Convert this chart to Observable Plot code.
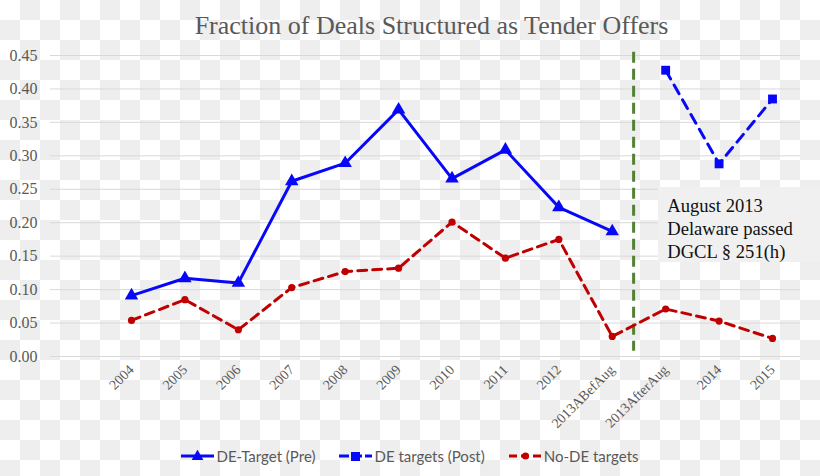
<!DOCTYPE html>
<html><head><meta charset="utf-8">
<script src="https://cdn.jsdelivr.net/npm/d3@7"></script>
<script src="https://cdn.jsdelivr.net/npm/@observablehq/plot@0.6"></script>
<style>
html,body{margin:0;padding:0}
body{width:820px;height:476px;overflow:hidden;background:repeating-conic-gradient(#eeeeee 0 25%, #ffffff 0 50%) 0 0/40px 40px;}
#title{height:32px;padding-top:13px;padding-left:43px;text-align:center;font-family:"Liberation Serif",serif;font-size:26px;line-height:1;color:#595959;}
#chart svg{display:block;}
#chart svg text{font-family:"Liberation Serif","Times New Roman",serif !important;}
#legend{height:41px;display:flex;justify-content:center;align-items:center;gap:24px;font-family:Lato,sans-serif;font-size:15px;color:#595959;padding-left:0;}
#legend .item{display:flex;align-items:center;gap:2px;}
</style></head>
<body>
<div id="title">Fraction of Deals Structured as Tender Offers</div>
<div id="chart"></div>
<div id="legend"></div>
<script>
const categories = ["2004","2005","2006","2007","2008","2009","2010","2011","2012","2013ABefAug","2013AfterAug","2014","2015"];
const preCategories = ["2004","2005","2006","2007","2008","2009","2010","2011","2012","2013ABefAug"];
const dePre = [0.091,0.117,0.110,0.262,0.289,0.369,0.266,0.309,0.223,0.187];
const postCategories = ["2013AfterAug","2014","2015"];
const dePost = [0.428,0.288,0.385];
const noDE = [0.054,0.085,0.040,0.103,0.127,0.132,0.201,0.147,0.175,0.030,0.071,0.053,0.027];
const yTicks = [0,0.05,0.10,0.15,0.20,0.25,0.30,0.35,0.40,0.45];
const seriesNames = ["DE-Target (Pre)","DE targets (Post)","No-DE targets"];
const lawLine = 9.4; // between 2013ABefAug and 2013AfterAug
const noteLines = ["August 2013","Delaware passed","DGCL § 251(h)"];

const BLUE = "#0808f8", RED = "#c00000", GREEN = "#548235";
const SERIF = "'Liberation Serif', 'Times New Roman', serif";
const pre = preCategories.map((c,i)=>({x:categories.indexOf(c), y:dePre[i]}));
const post = postCategories.map((c,i)=>({x:categories.indexOf(c), y:dePost[i]}));
const nde = categories.map((c,i)=>({x:i, y:noDE[i]}));

const chart = Plot.plot({
  width: 820, height: 390,
  marginLeft: 50, marginRight: 20, marginTop: 10, marginBottom: 79,
  style: {background:"transparent", fontFamily:SERIF, fontSize:"14px", color:"#595959"},
  x: {type:"linear", domain:[0,12], range:[131,772]},
  y: {domain:[0,0.45]},
  marks: [
    Plot.ruleY(yTicks, {stroke:"#d9d9d9", strokeWidth:1}),
    Plot.axisY({ticks:yTicks, tickFormat:".2f", tickSize:0, tickPadding:13, fontSize:16, fontFamily:SERIF, fill:"#595959", label:null}),
    Plot.axisX({ticks:d3.range(categories.length), tickFormat:i=>categories[i], tickSize:0, tickPadding:11, tickRotate:-45, fontSize:14, fontFamily:SERIF, fill:"#595959", label:null}),
    Plot.rect([{}], {x1:9.865, x2:13.2, y1:0.1405, y2:0.2527, fill:"#f0f0f0"}),
    Plot.ruleX([lawLine], {y1:0.455, y2:0.008, stroke:GREEN, strokeWidth:3, strokeDasharray:"11,6"}),
    Plot.line(nde, {x:"x", y:"y", stroke:RED, strokeWidth:3, strokeDasharray:"9,6"}),
    Plot.dot(nde, {x:"x", y:"y", r:3.6, fill:RED, stroke:"none"}),
    Plot.line(pre, {x:"x", y:"y", stroke:BLUE, strokeWidth:3}),
    Plot.dot(pre, {x:"x", y:"y", symbol:"triangle", r:5, fill:BLUE, stroke:"none"}),
    Plot.line(post, {x:"x", y:"y", stroke:BLUE, strokeWidth:3, strokeDasharray:"10,7"}),
    Plot.dot(post, {x:"x", y:"y", symbol:"square", r:5, fill:BLUE, stroke:"none"}),
    Plot.text([noteLines.join("\n")], {x:10.03, y:0.193, text:d=>d, textAnchor:"start", lineAnchor:"middle", fontSize:18.6, lineHeight:1.24, fill:"#111", fontFamily:SERIF})
  ]
});
document.getElementById("chart").appendChild(chart);

// legend
const sw = [
  `<svg width="33" height="12"><line x1="0" y1="6" x2="33" y2="6" stroke="${BLUE}" stroke-width="3"/><path d="${d3.symbol(d3.symbolTriangle, 60)()}" transform="translate(16.5,6.5)" fill="${BLUE}"/></svg>`,
  `<svg width="33" height="12"><line x1="0" y1="6" x2="33" y2="6" stroke="${BLUE}" stroke-width="3" stroke-dasharray="10,3"/><rect x="12" y="2" width="9" height="9" fill="${BLUE}"/></svg>`,
  `<svg width="33" height="12"><line x1="0" y1="6" x2="33" y2="6" stroke="${RED}" stroke-width="3" stroke-dasharray="8,4"/><circle cx="16.5" cy="6" r="3.6" fill="${RED}"/></svg>`
];
document.getElementById("legend").innerHTML = seriesNames.map((n,i)=>`<span class="item">${sw[i]}<span>${n}</span></span>`).join("");
</script>
</body></html>
